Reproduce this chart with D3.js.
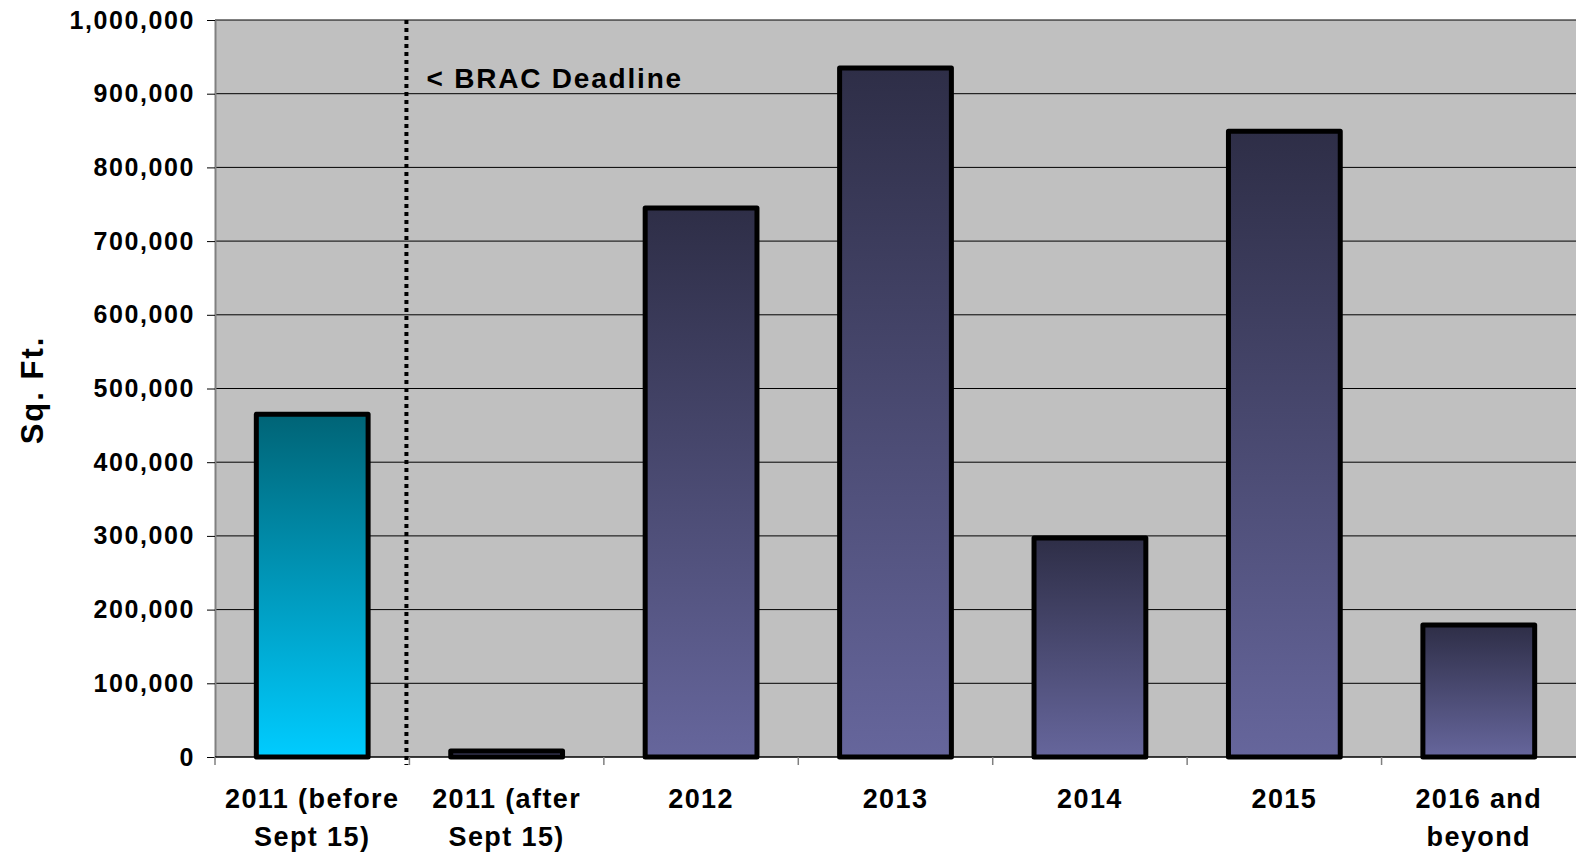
<!DOCTYPE html>
<html>
<head>
<meta charset="utf-8">
<script src="https://cdn.jsdelivr.net/npm/d3@7"></script>
<style>
body { margin: 0; background: #fff; }
text { font-family: "Liberation Sans", Arial, sans-serif; font-weight: bold; }
</style>
</head>
<body>
<svg id="chart" width="1576" height="857"></svg>
<script>
var categories = [["2011 (before", "Sept 15)"], ["2011 (after", "Sept 15)"], ["2012"], ["2013"], ["2014"], ["2015"], ["2016 and", "beyond"]]
var values = [465000, 8000, 745000, 935000, 297000, 849000, 179000]
var yTicks = [0, 100000, 200000, 300000, 400000, 500000, 600000, 700000, 800000, 900000, 1000000]
var deadlineLabel = "< BRAC Deadline"

var svg = d3.select("#chart")
var mLeft = 215, mRight = 1576, mTop = 20, mBottom = 757

var x = d3.scaleBand().domain(d3.range(categories.length)).range([mLeft, mRight]).paddingInner(0.425).paddingOuter(0.2125)
var xb = d3.scaleBand().domain(d3.range(categories.length)).range([mLeft, mRight])
var y = d3.scaleLinear().domain([0, 1000000]).range([mBottom, mTop])

var defs = svg.append("defs")
function grad(id, c1, c2)
{
	var g = defs.append("linearGradient").attr("id", id).attr("x1", 0).attr("y1", 0).attr("x2", 0).attr("y2", 1)
	g.append("stop").attr("offset", "0%").attr("stop-color", c1)
	g.append("stop").attr("offset", "100%").attr("stop-color", c2)
}
grad("gCyan", "#006476", "#00ccff")
grad("gBlue", "#2e2e47", "#66669c")

svg.append("rect").attr("x", mLeft).attr("y", mTop).attr("width", mRight - mLeft).attr("height", mBottom - mTop).attr("fill", "#c0c0c0")

// gridlines
svg.append("g").selectAll("line").data(yTicks.slice(1)).enter().append("line")
	.attr("x1", mLeft).attr("x2", mRight)
	.attr("y1", function(d) { return y(d) }).attr("y2", function(d) { return y(d) })
	.attr("stroke", "#000").attr("stroke-width", 1)

// y axis
var ya = svg.append("g").attr("transform", "translate(" + mLeft + ",0)")
	.call(d3.axisLeft(y).tickValues(yTicks).tickSize(8).tickSizeOuter(0).tickPadding(12).tickFormat(d3.format(",")))
ya.select(".domain").attr("stroke", "#808080").attr("stroke-width", 2)
ya.selectAll(".tick line").attr("stroke", "#000")
ya.selectAll("text").attr("font-size", 25).attr("letter-spacing", 1.6).attr("fill", "#000").attr("font-family", null)

// x axis
svg.append("line").attr("x1", mLeft).attr("x2", mRight).attr("y1", mBottom).attr("y2", mBottom).attr("stroke", "#000").attr("stroke-width", 1.5)
svg.append("g").selectAll("line").data(d3.range(categories.length)).enter().append("line")
	.attr("x1", function(d) { return xb(d) }).attr("x2", function(d) { return xb(d) })
	.attr("y1", mBottom).attr("y2", mBottom + 8)
	.attr("stroke", "#808080").attr("stroke-width", 1.5)

// bars
svg.append("g").selectAll("rect").data(values).enter().append("rect")
	.attr("x", function(d, i) { return x(i) })
	.attr("y", function(d) { return y(d) })
	.attr("width", x.bandwidth())
	.attr("height", function(d) { return mBottom - y(d) })
	.attr("fill", function(d, i) { return i == 0 ? "url(#gCyan)" : "url(#gBlue)" })
	.attr("stroke", "#000").attr("stroke-width", 5).attr("stroke-linejoin", "round")

// x labels
var xl = svg.append("g").selectAll("text").data(categories).enter().append("text")
	.attr("x", function(d, i) { return xb(i) + xb.bandwidth() / 2 })
	.attr("y", 808).attr("text-anchor", "middle").attr("font-size", 27).attr("letter-spacing", 1.4).attr("fill", "#000")
xl.selectAll("tspan").data(function(d) { return d }).enter().append("tspan")
	.attr("x", function() { return d3.select(this.parentNode).attr("x") })
	.attr("dy", function(d, i) { return i == 0 ? 0 : 38 })
	.text(function(d) { return d })

// deadline marker
var dx = xb(1) - 3
svg.append("line").attr("x1", dx).attr("x2", dx).attr("y1", mTop).attr("y2", mBottom + 8)
	.attr("stroke", "#000").attr("stroke-width", 4).attr("stroke-dasharray", "4,4")
svg.append("text").attr("x", dx + 20).attr("y", 88).attr("font-size", 28).attr("letter-spacing", 1.8).attr("fill", "#000").text(deadlineLabel)

// y title
svg.append("text").attr("transform", "translate(43,390) rotate(-90)").attr("text-anchor", "middle")
	.attr("font-size", 31).attr("letter-spacing", 2).attr("fill", "#000").text("Sq. Ft.")
</script>
</body>
</html>
